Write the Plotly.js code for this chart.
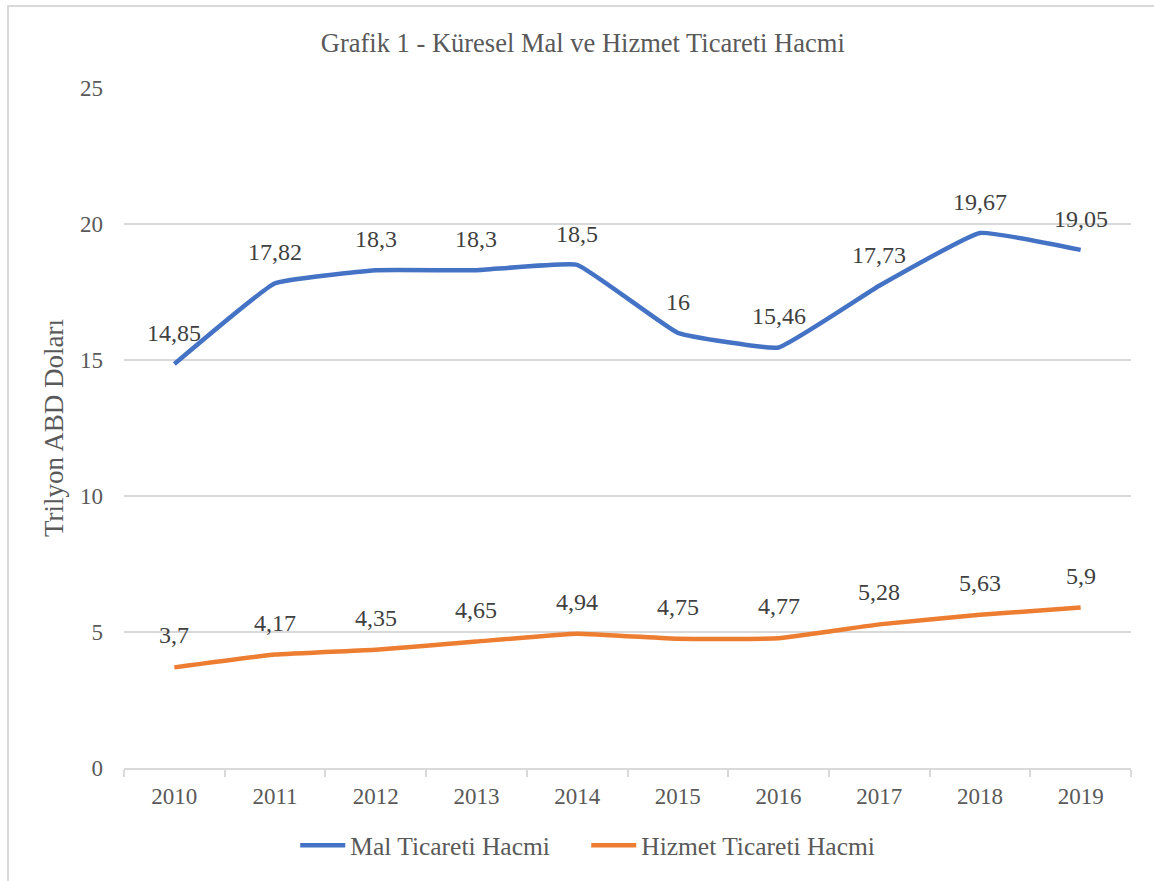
<!DOCTYPE html>
<html>
<head>
<meta charset="utf-8">
<script src="https://cdn.plot.ly/plotly-3.0.1.min.js"></script>
<style>
html,body{margin:0;padding:0;background:#fff;}
#wrap{position:relative;width:1154px;height:881px;}
#chart{width:1154px;height:881px;}
#frame{position:absolute;left:7px;top:5px;right:0;bottom:0;border-top:2px solid #d9d9d9;border-left:2px solid #d9d9d9;pointer-events:none;}
</style>
</head>
<body>
<div id="wrap"><div id="chart"></div><div id="frame"></div></div>
<script>
const years = ['2010','2011','2012','2013','2014','2015','2016','2017','2018','2019'];
const malValues = [14.85, 17.82, 18.3, 18.3, 18.5, 16, 15.46, 17.73, 19.67, 19.05];
const hizmetValues = [3.7, 4.17, 4.35, 4.65, 4.94, 4.75, 4.77, 5.28, 5.63, 5.9];
const malLabels = ['14,85','17,82','18,3','18,3','18,5','16','15,46','17,73','19,67','19,05'];
const hizmetLabels = ['3,7','4,17','4,35','4,65','4,94','4,75','4,77','5,28','5,63','5,9'];
const seriesNames = ['Mal Ticareti Hacmi', 'Hizmet Ticareti Hacmi'];
const yTicks = [0, 5, 10, 15, 20, 25];

const FONT = '"Liberation Serif", "Times New Roman", serif';
const TXT = '#595959';

const traces = [
  {x: years, y: malValues, name: seriesNames[0], type: 'scatter', mode: 'lines',
   line: {color: '#4472C4', width: 4.5, shape: 'spline', smoothing: 0.3}},
  {x: years, y: hizmetValues, name: seriesNames[1], type: 'scatter', mode: 'lines',
   line: {color: '#ED7D31', width: 4.5, shape: 'spline', smoothing: 0.3}}
];

const annotations = [];
years.forEach((yr, i) => {
  annotations.push({x: i, y: malValues[i], xref: 'x', yref: 'y', text: malLabels[i], showarrow: false, yshift: 31,
    font: {family: FONT, size: 24, color: '#404040'}});
  annotations.push({x: i, y: hizmetValues[i], xref: 'x', yref: 'y', text: hizmetLabels[i], showarrow: false, yshift: 32,
    font: {family: FONT, size: 24, color: '#404040'}});
});

const layout = {
  width: 1154, height: 881,
  margin: {l: 124, r: 23, t: 88, b: 113, autoexpand: false},
  paper_bgcolor: '#fff', plot_bgcolor: '#fff',
  font: {family: FONT, color: TXT, size: 23},
  title: {text: 'Grafik 1 - Küresel Mal ve Hizmet Ticareti Hacmi', x: 0.505, xanchor: 'center',
          y: 0.951, yanchor: 'middle', font: {family: FONT, size: 26.5, color: TXT}},
  xaxis: {type: 'category', range: [-0.5, 9.5], showgrid: false, zeroline: false,
          showline: true, linecolor: '#d9d9d9', linewidth: 2,
          ticks: 'outside', tickson: 'boundaries', ticklen: 7, tickcolor: '#d9d9d9', tickwidth: 2,
          ticklabelstandoff: 6,
          tickfont: {family: FONT, size: 23, color: TXT}, fixedrange: true},
  yaxis: {range: [0, 25], tickvals: yTicks, showgrid: true, gridcolor: '#d9d9d9', gridwidth: 1.5,
          zeroline: false, showline: false, ticks: '', ticklabelstandoff: 20,
          tickfont: {family: FONT, size: 23, color: TXT},
          title: {text: 'Trilyon ABD Doları', standoff: 8, font: {family: FONT, size: 27, color: TXT}}},
  legend: {orientation: 'h', x: 0.459, xanchor: 'center', yref: 'container', y: 0.04, yanchor: 'middle',
           font: {family: FONT, size: 25.5, color: TXT}, tracegroupgap: 0, entrywidth: 231, itemwidth: 45},
  annotations: annotations,
  showlegend: true
};

Plotly.newPlot('chart', traces, layout, {displayModeBar: false, staticPlot: true});
</script>
</body>
</html>
